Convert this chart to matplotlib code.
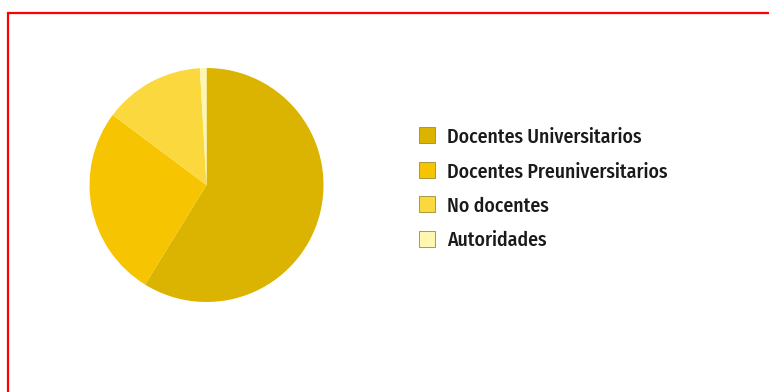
import matplotlib
matplotlib.use("Agg")
import matplotlib.pyplot as plt
from matplotlib.lines import Line2D
from matplotlib.patches import Rectangle

categories = ["Docentes Universitarios", "Docentes Preuniversitarios", "No docentes", "Autoridades"]
values = [58.8, 26.4, 13.9, 0.9]
colors = ["#DAB400", "#F6C400", "#FBD93E", "#FFF6B2"]

W, H = 769, 392
fig = plt.figure(figsize=(W / 100, H / 100), dpi=100)
fig.patch.set_facecolor("white")

cx, cy, r = 206.5, 185, 117
ax = fig.add_axes([(cx - r) / W, (H - cy - r) / H, 2 * r / W, 2 * r / H])
ax.pie(values, colors=colors, startangle=90, counterclock=False, radius=1,
       wedgeprops=dict(linewidth=0))
ax.set_xlim(-1, 1)
ax.set_ylim(-1, 1)
ax.set_aspect("equal")
ax.axis("off")

# red frame
fig.add_artist(Line2D([7 / W, 1.0], [1 - 12.8 / H, 1 - 12.8 / H], transform=fig.transFigure,
                      color="#FF0000", linewidth=1.6, solid_capstyle="butt"))
fig.add_artist(Line2D([8 / W, 8 / W], [0, 1 - 12 / H], transform=fig.transFigure,
                      color="#FF0000", linewidth=1.6, solid_capstyle="butt"))

# legend (manual, pixel layout)
fam = ["Fira Sans Condensed", "Roboto Condensed", "Barlow Semi Condensed", "DejaVu Sans"]
base0, step = 143, 34.5
for i, (lab, c) in enumerate(zip(categories, colors)):
    b = base0 + i * step
    fig.add_artist(Rectangle((419 / W, 1 - b / H), 16 / W, 16 / H, transform=fig.transFigure,
                             facecolor=c, edgecolor="#9C8A3A", linewidth=0.6))
    fig.text(447 / W, 1 - b / H, lab, ha="left", va="baseline", color="#1A1A1A",
             family=fam, fontsize=14.2, fontweight="medium")

fig.savefig("out.png", dpi=100, facecolor="white")
